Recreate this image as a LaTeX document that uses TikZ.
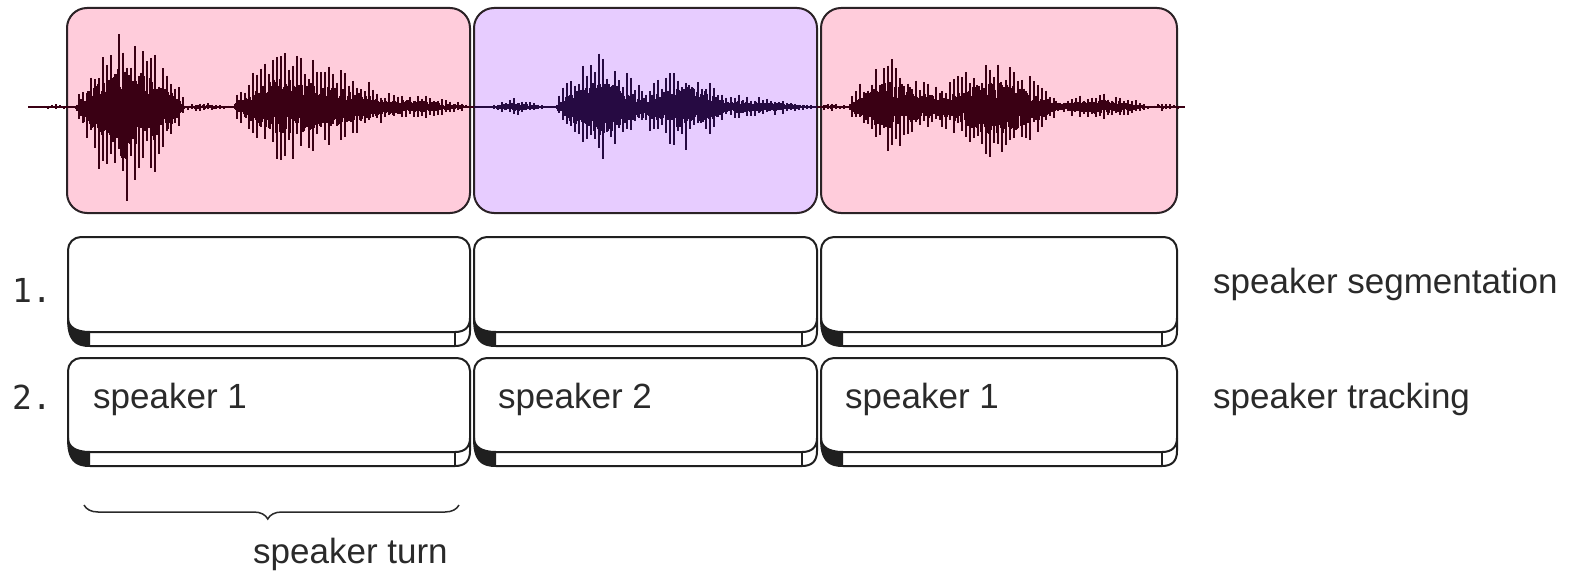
\documentclass[tikz,border=0pt]{standalone}
\usepackage{fontspec}
\setmainfont{Liberation Sans}
\newfontfamily\monofont{DejaVu Sans Mono}
\usetikzlibrary{decorations.pathreplacing}
\definecolor{pinkfill}{HTML}{FFCCDB}
\definecolor{purplefill}{HTML}{E7CCFF}
\definecolor{boxedge}{HTML}{2B2226}
\definecolor{wavered}{HTML}{3A0014}
\definecolor{waveblue}{HTML}{260A42}
\definecolor{txt}{HTML}{2A2A2A}
\tikzset{
  slabline/.style={draw=black!88, line width=2pt},
  topbox/.style={draw=boxedge, line width=2pt, rounded corners=20pt},
  lbl/.style={anchor=base west, inner sep=0pt, text=txt, font=\fontsize{35}{42}\selectfont},
  num/.style={anchor=base, inner sep=0pt, text=txt, font=\monofont\fontsize{33}{40}\selectfont},
  wr/.style={draw=wavered},
  wb/.style={draw=waveblue},
}
% L R T F B
\newcommand\slab[5]{%
  \filldraw[slabline, fill=white, rounded corners=13pt] (#1,{#4-14}) -- (#1,#3) -- (#2,#3) -- (#2,{#4-14})
    [sharp corners] .. controls (#2,{#5-5}) and ({#2-5},#5) .. ({#2-15},#5) -- ({#1+22},#5)
    .. controls ({#1+7},#5) and (#1,{#5-6}) .. (#1,{#4-14}) -- cycle;
  \fill[black!88] (#1,{#4-14}) .. controls (#1,{#4-5}) and ({#1+8},#4) .. ({#1+22},#4) -- ({#1+22},#5)
    .. controls ({#1+7},#5) and (#1,{#5-6}) .. (#1,{#4-14}) -- cycle;
  \draw[slabline] (#1,{#4-14}) .. controls (#1,{#4-5}) and ({#1+8},#4) .. ({#1+22},#4) -- ({#2-15},#4)
    .. controls ({#2-5},#4) and (#2,{#4-5}) .. (#2,{#4-14});
  \draw[slabline] ({#2-15},#4) -- ({#2-15},#5);
}
% a p b up down style
\newcommand\burst[6]{%
  \draw[#6, line width=1.2pt] \foreach \x in {#1,...,#3} {
    ({\x},{107-(#4)*(0.16+0.36*rnd)*min((\x-#1)/(#2-#1),(#3-\x)/(#3-#2))^0.7}) --
    ({\x},{107+(#5)*(0.16+0.36*rnd)*min((\x-#1)/(#2-#1),(#3-\x)/(#3-#2))^0.7})};
  \pgfmathtruncatemacro\bsecond{#1+4}%
  \draw[#6, line width=1.9pt] \foreach \x in {#1,\bsecond,...,#3} {
    ({\x},{107-(#4)*(0.4+0.6*rnd)*min((\x-#1)/(#2-#1),(#3-\x)/(#3-#2))^0.6}) --
    ({\x},{107+(#5)*(0.4+0.6*rnd)*min((\x-#1)/(#2-#1),(#3-\x)/(#3-#2))^0.6})};
}
\begin{document}
\begin{tikzpicture}[x=1pt,y=-1pt]
\useasboundingbox (0,0) rectangle (1577,575);
\fill[white] (0,0) rectangle (1577,575);
\pgfmathsetseed{11}
% top coloured segments
\filldraw[topbox, fill=pinkfill] (67,8) rectangle (470,213);
\filldraw[topbox, fill=purplefill] (474,8) rectangle (817,213);
\filldraw[topbox, fill=pinkfill] (821,8) rectangle (1177,213);
% waveform
\draw[wr, line width=1.6pt] (28,107) -- (474,107);
\draw[wb, line width=1.6pt] (474,107) -- (817,107);
\draw[wr, line width=1.6pt] (817,107) -- (1185,107);
\burst{40}{55}{75}{3}{3}{wr}
\burst{75}{125}{185}{82}{102}{wr}
\burst{180}{200}{235}{5}{5}{wr}
\burst{233}{280}{400}{58}{56}{wr}
\burst{370}{400}{472}{15}{14}{wr}
\burst{490}{515}{545}{9}{9}{wb}
\burst{555}{600}{650}{55}{58}{wb}
\burst{630}{685}{730}{46}{47}{wb}
\burst{715}{735}{815}{13}{12}{wb}
\burst{820}{830}{848}{5}{5}{wr}
\burst{848}{890}{950}{52}{47}{wr}
\burst{930}{995}{1060}{54}{58}{wr}
\burst{1040}{1100}{1150}{15}{14}{wr}
\burst{1150}{1160}{1185}{4}{4}{wr}
% row 1
\slab{68}{470}{237}{332}{346}
\slab{474}{817}{237}{332}{346}
\slab{821}{1177}{237}{332}{346}
% row 2
\slab{68}{470}{358}{452}{466}
\slab{474}{817}{358}{452}{466}
\slab{821}{1177}{358}{452}{466}
% labels
\node[num] (n1) at (32,302) {1.};
\node[num] (n2) at (32,409) {2.};
\node[lbl] (seg) at (1213,293) {speaker segmentation};
\node[lbl] (trk) at (1213,408) {speaker tracking};
\node[lbl] (s1) at (93,408) {speaker 1};
\node[lbl] (s2) at (498,408) {speaker 2};
\node[lbl] (s3) at (845,408) {speaker 1};
% brace
\coordinate (bl) at (84,505);
\coordinate (br) at (459,505);
\draw[decorate, decoration={brace, amplitude=14pt, aspect=0.51}, line width=1.5pt, draw=txt] (br) -- (bl);
\node[lbl] (turn) at (253,563) {speaker turn};
\end{tikzpicture}
\end{document}
